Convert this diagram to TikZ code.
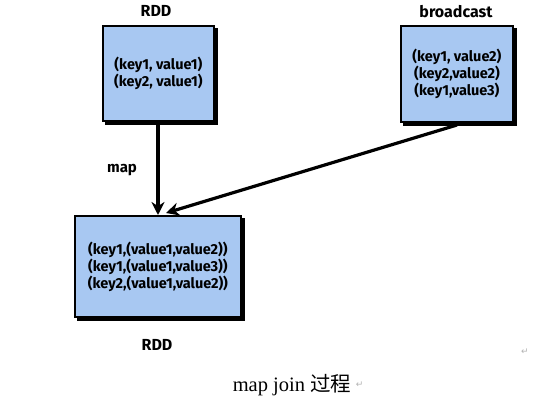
\documentclass[tikz,border=0pt]{standalone}
\usepackage{fontspec}
\setmainfont{Liberation Serif}
\newfontfamily\boxfont{Fira Sans}
\newfontfamily\cjk{Noto Sans CJK SC}
\newfontfamily\symfont{DejaVu Sans}
\usetikzlibrary{arrows.meta,backgrounds}
\definecolor{boxblue}{RGB}{168,200,242}
\tikzset{
  databox/.style={draw=black, line width=1.8pt, fill=boxblue, anchor=north west,
    inner sep=0pt, align=center, font=\boxfont\bfseries\fontsize{14.5}{17}\selectfont},
  boxshadow/.style={fill=black},
  title/.style={font=\boxfont\bfseries\fontsize{16}{18}\selectfont},
  flow/.style={line width=3.2pt, -{Stealth[length=13pt,width=13pt]}},
  retmark/.style={font=\symfont\fontsize{9}{10}\selectfont, text=gray!60}
}
\begin{document}
\begin{tikzpicture}[x=1pt,y=-1pt]
\useasboundingbox (0,0) rectangle (558,409);
\node[databox, minimum width=111pt, minimum height=95pt] (rdd1) at (102,25)
  {(key1, value1)\\(key2, value1)};
\node[databox, minimum width=112pt, minimum height=96pt] (bc) at (400,25)
  {(key1, value2)\\(key2,value2)\\(key1,value3)};
\node[databox, minimum width=166pt, minimum height=101pt] (rdd2) at (74,215)
  {(key1,(value1,value2))\\(key1,(value1,value3))\\(key2,(value1,value2))};
\begin{scope}[on background layer]
  \foreach \b in {rdd1,bc,rdd2}
    \fill[boxshadow] ([shift={(3,3)}]\b.north west) rectangle ([shift={(3,3)}]\b.south east);
\end{scope}
\node[title] (t1) at (156,11) {RDD};
\node[title] (t2) at (456,12) {broadcast};
\node[title] (t3) at (157,345) {RDD};
\node[title, font=\boxfont\bfseries\fontsize{15}{17}\selectfont] (lmap) at (122,170) {map};
\coordinate (a1s) at (158,121);
\coordinate (a1e) at (158,215);
\coordinate (a2s) at (457,125);
\coordinate (a2e) at (166,213);
\draw[flow] (a1s) -- (a1e);
\draw[flow] (a2s) -- (a2e);
\node[font=\fontsize{20.5}{22}\selectfont] (cap) at (292,385) {map join {\cjk 过程}};
\node[retmark, anchor=west, inner sep=1pt] (m2) at (cap.east) {↵};
\node[retmark] (m1) at (525,352) {↵};
\end{tikzpicture}
\end{document}
